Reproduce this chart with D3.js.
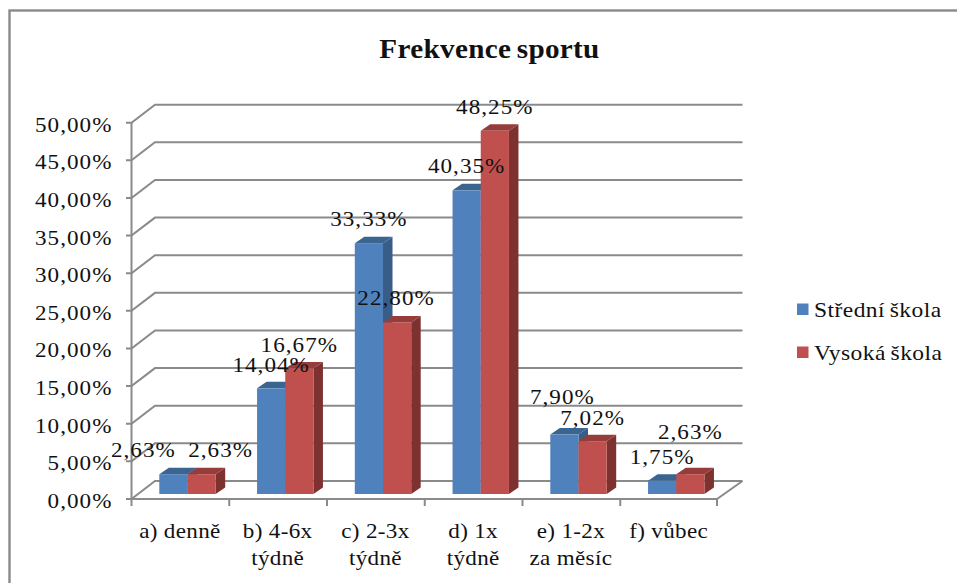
<!DOCTYPE html>
<html><head><meta charset="utf-8">
<script src="https://cdn.jsdelivr.net/npm/d3@7/dist/d3.min.js"></script>
<style>html,body{margin:0;background:#fff;overflow:hidden}svg{display:block}text{font-family:"Liberation Serif",serif;fill:#111}</style>
</head><body><svg id="c" width="957" height="583"></svg>
<script>
const categories = [["a) denně"],["b) 4-6x","týdně"],["c) 2-3x","týdně"],["d) 1x","týdně"],["e) 1-2x","za měsíc"],["f) vůbec"]];
const seriesNames = ["Střední škola","Vysoká škola"];
const stredni = [2.63,14.04,33.33,40.35,7.90,1.75];
const vysoka = [2.63,16.67,22.80,48.25,7.02,2.63];
const yTicks = [0,5,10,15,20,25,30,35,40,45,50];
// hand-placed shifts of the data labels away from their default spot above the bar
const stredniNudge = [[-30,0],[0,1],[0,0],[0,0],[-2,-14],[0,0]];
const vysokaNudge = [[19,0],[0,0],[-1,0],[0,0],[0,1],[0,-18]];

const fmt = v => v.toFixed(2).replace(".", ",") + "%";
const svg = d3.select("#c");
const grey = "#8a8a8a";
const colors = [
  {front:"#4f81bd", top:"#3b6591", side:"#375d88"},
  {front:"#c0504d", top:"#963c3a", side:"#7d3230"}
];
const depth = {x:23.5, y:18};
const barDepth = {x:9.5, y:6.5};
const x = d3.scaleBand().domain(d3.range(6)).range([131.5,718]);
const y = d3.scaleLinear().domain([0,50]).range([499,122.7]);
const barW = 28.2, floorRise = 5, barInset = 27.8, labelLift = 17;

// stretched serif text: the whole chart uses wide lettering
function label(g, px, py, str, size, anchor, sx, spacing, bold){
  return g.append("text").attr("transform",`translate(${px},${py}) scale(${sx},1)`)
    .attr("text-anchor",anchor).attr("font-size",size)
    .attr("letter-spacing",spacing).attr("font-weight",bold?"bold":null).text(str);
}

// outer frame runs off the right and bottom of the page
svg.append("rect").attr("x",9.5).attr("y",10.5).attr("width",1000).attr("height",640)
  .attr("fill","#fff").attr("stroke",grey).attr("stroke-width",2.4);

label(svg,489.5,57.5,"Frekvence sportu",27,"middle",1.08,0.3,true).attr("word-spacing",-2);

// back wall and floor lines
const grid = svg.append("g").attr("fill","none").attr("stroke",grey).attr("stroke-width",2);
yTicks.forEach(t=>{
  const p = y(t);
  grid.append("path").attr("d",d3.line()([[126,p],[131.5,p],[131.5+depth.x,p-depth.y],[742.5,p-depth.y]]));
});
grid.append("path").attr("d",d3.line()([[131.5,y(50)],[131.5,y(0)],[717,y(0)],[742.5,y(0)-depth.y]]));
d3.range(7).forEach(i=>{
  const px = i<6 ? x(i) : x.range()[1]-1;
  grid.append("path").attr("d",d3.line()([[px,y(0)],[px,y(0)+7]]));
});

yTicks.forEach(t=>label(svg,112.5,y(t)+9,fmt(t),22,"end",1.05,1));

// 3D columns: side and top faces first, then the front face
const bars = svg.append("g");
const base = y(0)-floorRise;
function column(i,s,val){
  const c = colors[s];
  const x0 = x(i)+barInset+s*barW, x1 = x0+barW;
  const top = base-(y(0)-y(val));
  const d = barDepth;
  bars.append("path").attr("fill",c.side).attr("d",d3.line()([[x1,top],[x1+d.x,top-d.y],[x1+d.x,base-d.y],[x1,base]])+"Z");
  bars.append("path").attr("fill",c.top).attr("d",d3.line()([[x0,top],[x0+d.x,top-d.y],[x1+d.x,top-d.y],[x1,top]])+"Z");
  bars.append("rect").attr("x",x0).attr("y",top).attr("width",barW).attr("height",base-top).attr("fill",c.front);
}
d3.range(6).forEach(i=>{column(i,0,stredni[i]);column(i,1,vysoka[i]);});

const labels = svg.append("g");
[[stredni,stredniNudge],[vysoka,vysokaNudge]].forEach(([vals,nudge],s)=>{
  vals.forEach((v,i)=>{
    const cx = x(i)+barInset+s*barW+barW/2;
    const top = base-(y(0)-y(v));
    label(labels,cx+nudge[i][0],top-labelLift+nudge[i][1],fmt(v),22,"middle",1.05,1);
  });
});

categories.forEach((lines,i)=>{
  lines.forEach((t,j)=>label(svg,x(i)+x.bandwidth()/2-0.5,538+j*27,t,21,"middle",1.1,0.3));
});

// legend
seriesNames.forEach((n,s)=>{
  const py = 303.5+s*43;
  svg.append("rect").attr("x",797).attr("y",py).attr("width",11.5).attr("height",11.5).attr("fill",colors[s].front);
  label(svg,814,py+13,n,21,"start",1.12,0.4).attr("word-spacing",-1.5);
});
</script></body></html>
